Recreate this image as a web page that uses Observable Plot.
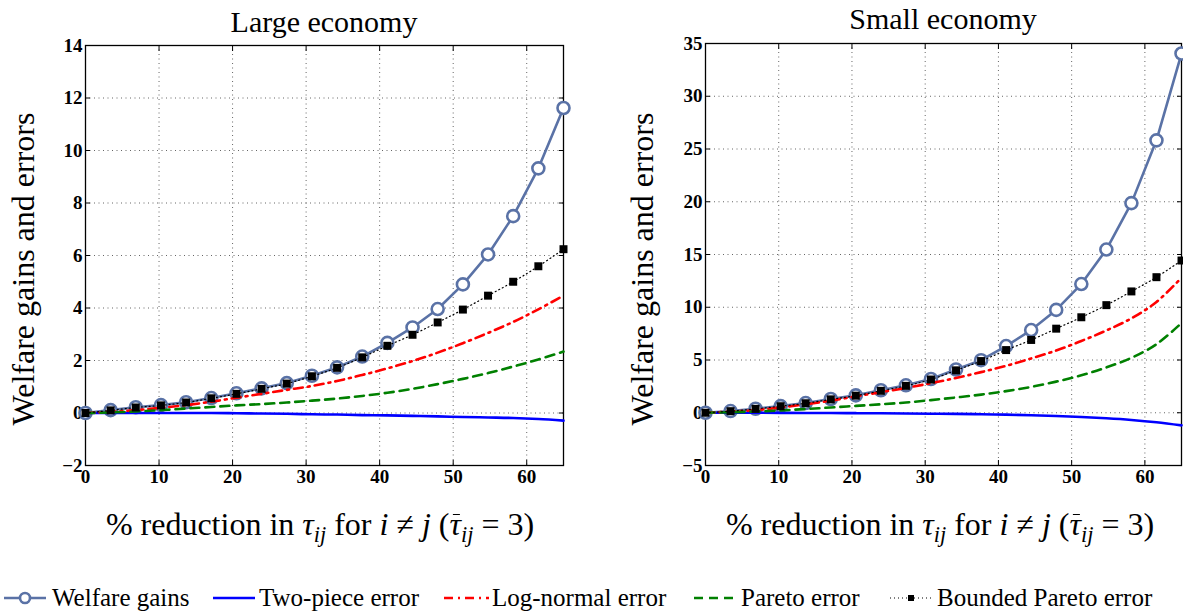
<!DOCTYPE html>
<html>
<head>
<meta charset="utf-8">
<script src="https://cdn.jsdelivr.net/npm/d3@7"></script>
<script src="https://cdn.jsdelivr.net/npm/@observablehq/plot@0.6"></script>
<style>
  body { margin: 0; background: #fff; }
  #root { position: relative; width: 1183px; height: 611px; overflow: hidden;
          font-family: "Liberation Serif", "DejaVu Serif", serif; color: #000; }
  .panel { position: absolute; top: 0; }
  .title, .xlab, .ylab, .leg { font-family: "Liberation Serif", "DejaVu Serif", serif; }
  .title { position: absolute; font-size: 30px; line-height: 1; transform: translateX(-50%); white-space: nowrap; }
  .xlab { position: absolute; font-size: 32px; line-height: 1; transform: translateX(-50%); white-space: nowrap; }
  .ylab { position: absolute; font-size: 32px; line-height: 1; transform: translate(-50%, -50%) rotate(-90deg); white-space: nowrap; }
  .xlab sub { font-size: 0.7em; vertical-align: -0.3em; line-height: 0; }
  .bar { display: inline-block; position: relative; }
  .bar::before { content: ""; position: absolute; left: 0.12em; right: 0.02em; top: 0.2em; border-top: 1.4px solid #000; }
  .leg { position: absolute; top: 585px; height: 25px; display: flex; align-items: center; font-size: 25px; line-height: 1; white-space: nowrap; }
  .leg svg { margin-right: 2px; }
</style>
</head>
<body>
<div id="root"></div>
<script>
// Tariff cut grid (% reduction in tau_ij), shared by every series
const cuts = [0, 3.42, 6.84, 10.26, 13.68, 17.11, 20.53, 23.95, 27.37, 30.79,
              34.21, 37.63, 41.05, 44.47, 47.89, 51.32, 54.74, 58.16, 61.58, 65];
const xTicks = [0, 10, 20, 30, 40, 50, 60];

// Large economy
const largeWelfare  = [0, 0.11, 0.22, 0.30, 0.41, 0.57, 0.75, 0.94, 1.14, 1.42,
                       1.74, 2.15, 2.67, 3.26, 3.96, 4.90, 6.04, 7.50, 9.32, 11.62];
const largeTwoPiece = [0, 0, 0, 0, 0, 0, -0.01, -0.02, -0.03, -0.05,
                       -0.06, -0.08, -0.09, -0.11, -0.13, -0.15, -0.17, -0.19, -0.23, -0.29];
const largeLogNormal = [0, 0.04, 0.11, 0.20, 0.30, 0.43, 0.58, 0.73, 0.88, 1.03,
                        1.22, 1.45, 1.70, 1.98, 2.30, 2.66, 3.05, 3.47, 3.95, 4.47];
const largePareto   = [0, 0.02, 0.06, 0.11, 0.17, 0.23, 0.29, 0.34, 0.40, 0.47,
                       0.55, 0.65, 0.77, 0.92, 1.10, 1.30, 1.52, 1.77, 2.04, 2.34];
const largeBounded  = [0, 0.10, 0.21, 0.29, 0.40, 0.56, 0.73, 0.92, 1.12, 1.40,
                       1.72, 2.12, 2.56, 2.98, 3.45, 3.94, 4.47, 5.00, 5.59, 6.24];
const largeYTicks = [-2, 0, 2, 4, 6, 8, 10, 12, 14];

// Small economy
const smallWelfare  = [0, 0.16, 0.38, 0.63, 0.92, 1.30, 1.65, 2.13, 2.60, 3.20,
                       4.10, 4.98, 6.32, 7.84, 9.75, 12.20, 15.47, 19.87, 25.82, 34.05];
const smallTwoPiece = [0, 0, 0, -0.01, -0.02, -0.03, -0.04, -0.05, -0.07, -0.09,
                       -0.11, -0.14, -0.18, -0.24, -0.31, -0.40, -0.52, -0.68, -0.90, -1.20];
const smallLogNormal = [0, 0.10, 0.25, 0.50, 0.80, 1.15, 1.55, 1.95, 2.35, 2.80,
                        3.30, 3.85, 4.45, 5.15, 5.90, 6.80, 7.80, 8.95, 10.50, 12.80];
const smallPareto   = [0, 0.05, 0.12, 0.22, 0.35, 0.50, 0.65, 0.80, 0.97, 1.20,
                       1.45, 1.72, 2.05, 2.45, 2.95, 3.55, 4.30, 5.20, 6.50, 8.50];
const smallBounded  = [0, 0.15, 0.37, 0.62, 0.90, 1.27, 1.62, 2.08, 2.55, 3.15,
                       4.02, 4.90, 5.94, 6.90, 7.97, 9.05, 10.20, 11.50, 12.85, 14.43];
const smallYTicks = [-5, 0, 5, 10, 15, 20, 25, 30, 35];

const seriesNames = ["Welfare gains", "Two-piece error", "Log-normal error", "Pareto error", "Bounded Pareto error"];
const colors = { welfare: "#5a72a6", twoPiece: "#0000ff", logNormal: "#ff0000", pareto: "#008000", bounded: "#000000" };
const dashes = { logNormal: "9,5,2,5", pareto: "9,6", bounded: "1,3" };

const rows = vals => cuts.map((x, i) => ({x, y: vals[i]}));

function chart({welfare, twoPiece, logNormal, pareto, bounded, yTicks, width, marginTop, marginRight}) {
  const yDomain = [yTicks[0], yTicks[yTicks.length - 1]];
  const tickStyle = {tickSize: -5, tickPadding: 11, fontSize: 19, fontWeight: "bold", label: null};
  return Plot.plot({
    width, height: 490,
    marginLeft: 85, marginRight, marginTop, marginBottom: 25,
    style: {fontFamily: "'Liberation Serif', 'DejaVu Serif', serif", background: "transparent", overflow: "visible"},
    x: {domain: [0, 65]},
    y: {domain: yDomain},
    marks: [
      Plot.gridX(xTicks, {stroke: "#333", strokeOpacity: 0.75, strokeDasharray: "1,3.5"}),
      Plot.gridY(yTicks, {stroke: "#333", strokeOpacity: 0.75, strokeDasharray: "1,3.5"}),
      Plot.axisX(xTicks, {...tickStyle, anchor: "bottom", tickPadding: 9}),
      Plot.axisX(xTicks, {...tickStyle, anchor: "top", tickFormat: () => ""}),
      Plot.axisY(yTicks, {...tickStyle, anchor: "left", tickPadding: 8}),
      Plot.axisY(yTicks, {...tickStyle, anchor: "right", tickFormat: () => ""}),
      Plot.frame({stroke: "#000", strokeWidth: 1.3}),
      // Welfare gains: line with open circles
      Plot.line(rows(welfare), {x: "x", y: "y", stroke: colors.welfare, strokeWidth: 2.6}),
      Plot.dot(rows(welfare), {x: "x", y: "y", r: 6, fill: "white", stroke: colors.welfare, strokeWidth: 2.6}),
      // Approximation errors
      Plot.line(rows(twoPiece), {x: "x", y: "y", stroke: colors.twoPiece, strokeWidth: 2.6, curve: "catmull-rom"}),
      Plot.line(rows(logNormal), {x: "x", y: "y", stroke: colors.logNormal, strokeWidth: 2.6, strokeDasharray: dashes.logNormal, curve: "catmull-rom"}),
      Plot.line(rows(pareto), {x: "x", y: "y", stroke: colors.pareto, strokeWidth: 2.6, strokeDasharray: dashes.pareto, curve: "catmull-rom"}),
      Plot.line(rows(bounded), {x: "x", y: "y", stroke: colors.bounded, strokeWidth: 1.2, strokeDasharray: dashes.bounded, curve: "catmull-rom"}),
      Plot.dot(rows(bounded), {x: "x", y: "y", symbol: "square", r: 4.5, fill: colors.bounded})
    ]
  });
}

const root = document.getElementById("root");

function addPanel(left, title, titleX, titleTop, labelX, ylabX, opts) {
  const wrap = document.createElement("div");
  wrap.className = "panel";
  wrap.style.left = left + "px";
  wrap.appendChild(chart(opts));
  root.appendChild(wrap);

  const t = document.createElement("div");
  t.className = "title";
  t.style.left = titleX + "px";
  t.style.top = titleTop + "px";
  t.textContent = title;
  root.appendChild(t);

  const xl = document.createElement("div");
  xl.className = "xlab";
  xl.style.left = labelX + "px";
  xl.style.top = "508px";
  xl.innerHTML = '% reduction in <i>τ</i><sub><i>ij</i></sub> for <i>i</i> ≠ <i>j</i> (<span class="bar"><i>τ</i></span><sub><i>ij</i></sub> = 3)';
  root.appendChild(xl);

  const yl = document.createElement("div");
  yl.className = "ylab";
  yl.style.left = ylabX + "px";
  yl.style.top = "269px";
  yl.textContent = "Welfare gains and errors";
  root.appendChild(yl);
}

addPanel(0, "Large economy", 324, 7, 320, 23, {
  welfare: largeWelfare, twoPiece: largeTwoPiece, logNormal: largeLogNormal,
  pareto: largePareto, bounded: largeBounded, yTicks: largeYTicks,
  width: 590, marginTop: 45, marginRight: 27
});
addPanel(620, "Small economy", 943, 4, 940, 642, {
  welfare: smallWelfare, twoPiece: smallTwoPiece, logNormal: smallLogNormal,
  pareto: smallPareto, bounded: smallBounded, yTicks: smallYTicks,
  width: 563, marginTop: 43, marginRight: 2
});

// Legend row
const swatches = [
  {left: 0, w: 50, x1: 4, x2: 46, line: {stroke: colors.welfare, width: 2.6}, marker: "circle"},
  {left: 211, w: 46, x1: 2, x2: 44, line: {stroke: colors.twoPiece, width: 2.6}},
  {left: 442, w: 48, x1: 2, x2: 47, line: {stroke: colors.logNormal, width: 2.6, dash: dashes.logNormal}},
  {left: 692, w: 47, x1: 2, x2: 46, line: {stroke: colors.pareto, width: 2.6, dash: dashes.pareto}},
  {left: 887, w: 48, x1: 3, x2: 45, line: {stroke: colors.bounded, width: 1.2, dash: dashes.bounded}, marker: "square"}
];
swatches.forEach((s, i) => {
  const item = document.createElement("div");
  item.className = "leg";
  item.style.left = s.left + "px";
  const svg = d3.create("svg").attr("width", s.w).attr("height", 16);
  svg.append("line").attr("x1", s.x1).attr("x2", s.x2).attr("y1", 8).attr("y2", 8)
    .attr("stroke", s.line.stroke).attr("stroke-width", s.line.width)
    .attr("stroke-dasharray", s.line.dash || null);
  const cx = (s.x1 + s.x2) / 2;
  if (s.marker === "circle") {
    svg.append("circle").attr("cx", cx).attr("cy", 8).attr("r", 5)
      .attr("fill", "white").attr("stroke", s.line.stroke).attr("stroke-width", 2.6);
  } else if (s.marker === "square") {
    svg.append("rect").attr("x", cx - 3).attr("y", 5).attr("width", 6).attr("height", 6).attr("fill", "#000");
  }
  item.appendChild(svg.node());
  const label = document.createElement("span");
  label.textContent = seriesNames[i];
  item.appendChild(label);
  root.appendChild(item);
});
</script>
</body>
</html>
